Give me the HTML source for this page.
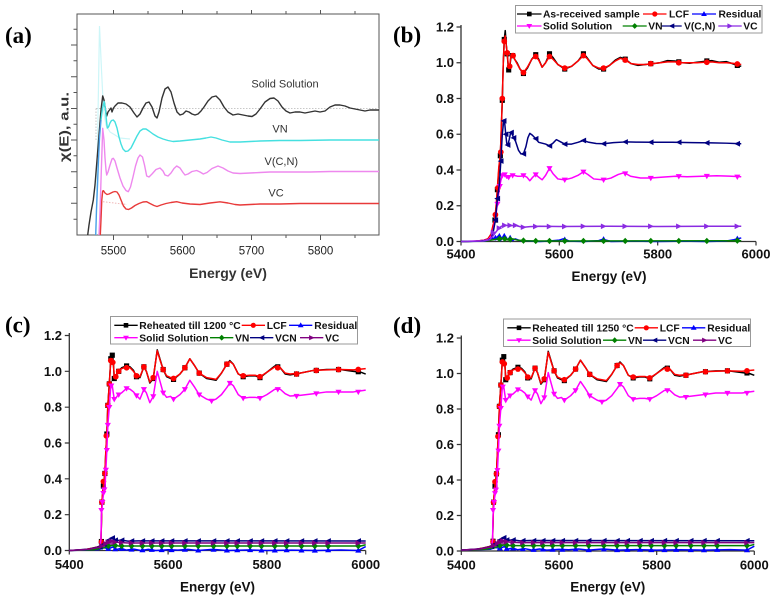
<!DOCTYPE html>
<html>
<head>
<meta charset="utf-8">
<style>
html,body{margin:0;padding:0;background:#fff;}
svg{display:block;}
text{font-family:"Liberation Sans",Arial,sans-serif;}
.t{font-weight:bold;font-size:13px;fill:#111;}
.xt{font-weight:bold;font-size:13.5px;fill:#111;}
.lg{font-weight:bold;font-size:10.3px;fill:#111;}
.pl{font-family:"Liberation Serif","Times New Roman",serif;font-weight:bold;font-size:23px;fill:#000;}
.l{fill:none;vector-effect:non-scaling-stroke;stroke-width:1.5;stroke-linejoin:round;}
.a{fill:none;stroke-width:1.4;stroke-linejoin:round;}
.ax{stroke:#333;stroke-width:1.3;fill:none;}
</style>
</head>
<body>
<svg width="779" height="598" viewBox="0 0 779 598" xmlns="http://www.w3.org/2000/svg" xmlns:xlink="http://www.w3.org/1999/xlink">
<defs>
  <path id="mS" d="M-5.2,-0.0145h10.4v0.029h-10.4z"/>
  <ellipse id="mC" cx="0" cy="0" rx="5.8" ry="0.016"/>
  <path id="mU" d="M0,-0.018L6.2,0.012L-6.2,0.012z"/>
  <path id="mD" d="M0,0.018L6.2,-0.012L-6.2,-0.012z"/>
  <path id="mL" d="M-6.4,0L5.5,-0.016L5.5,0.016z"/>
  <path id="mR" d="M6.4,0L-5.5,-0.016L-5.5,0.016z"/>
  <path id="mV" d="M0,-0.018L6.2,0L0,0.018L-6.2,0z"/>
  <path id="pS" d="M-2.3,-2.3h4.6v4.6h-4.6z"/>
  <circle id="pC" cx="0" cy="0" r="2.6"/>
  <path id="pU" d="M0,-2.9L2.9,2L-2.9,2z"/>
  <path id="pD" d="M0,2.9L2.9,-2L-2.9,-2z"/>
  <path id="pL" d="M-3,0L2.6,-2.6L2.6,2.6z"/>
  <path id="pR" d="M3,0L-2.6,-2.6L-2.6,2.6z"/>
  <path id="pV" d="M0,-2.9L2.9,0L0,2.9L-2.9,0z"/>
</defs>
<rect width="779" height="598" fill="#fff"/>

<!-- ================= PANEL (a) ================= -->
<text class="pl" x="5" y="43">(a)</text>
<rect x="77" y="14" width="302" height="221" fill="none" stroke="#555" stroke-width="1"/>
<g stroke="#555" stroke-width="1">
  <path d="M71,45H77M71,76.7H77M71,108.5H77M71,140H77M71,171.7H77M71,203.3H77"/>
  <path d="M73.5,29.3H77M73.5,60.8H77M73.5,92.5H77M73.5,124.3H77M73.5,155.8H77M73.5,187.5H77M73.5,219.2H77"/>
  <path d="M113.5,10V14M182.5,10V14M251.5,10V14M320.5,10V14M148,11V14M217,11V14M286,11V14M355,11V14"/>
  <path d="M113.5,235V240M182.5,235V240M251.5,235V240M320.5,235V240M148,235V238M217,235V238M286,235V238M355,235V238"/>
</g>
<path d="M96,108.5H379M96,108.5V140" stroke="#c8c8c8" stroke-width="1" stroke-dasharray="1.5,1.5" fill="none"/>
<path d="M103,201.7L127,204.5" stroke="#f0b8b8" stroke-width="1" stroke-dasharray="1.5,1.5" fill="none"/>
<polyline points="96,235 99.5,26 101.5,70 103.5,110 106,125 110,132 120,138 130,139" fill="none" stroke="#cdf6f8" stroke-width="1.2"/>
<polyline class="a" stroke="#333" points="87.7,235 89,225 91,212 93.3,200 95,185 97,160 99,135 101,110 102.7,96 104,100 105.5,110 106.7,116 108,112 109.5,110 111,108 112,112 113.5,108 115,106 118,103 122,103 126,104 130,107 134,113 137,117 140,114 143,108 146,103 149,102 152,107 155,116 157,118 159,112 162,98 165,89 168,87 171,92 174,103 177,112 180,115 183,114 186,111 189,112 192,114 195,115 198,114 201,111 204,107 208,101 212,97 216,96 220,100 224,107 228,112 233,115 238,114 243,115 248,116 252,116.5 256,114 260,109 265,102 270,98.5 274,98 278,101 282,107 286,111 290,113 295,112 300,112 305,113 310,112 315,111 320,112 325,111 330,107 335,105 340,105 345,106 350,108 355,109 360,110 365,111 370,110 375,110 379,110"/>
<polyline class="a" stroke="#45e0e0" points="101,120 102.5,108 104.3,101.7 105.5,110 106.5,121 107.3,128 108.5,127 110,123 111.5,120.5 113.3,120 115,122 117,128 119,137 121,144 123,149 125.5,151.5 128,151 131,148 134,142 137,136 140,131 143,129 146,129 149,131 153,134 158,137 163,139 168,140.5 173,141.5 180,141 190,140 200,139 206,138 211,137 216,138 222,140 230,142 240,142 250,141.5 260,141 280,140.5 300,140.5 330,140 379,140"/>
<polyline class="a" stroke="#4aa0e8" points="95.7,235 96.5,210 97.5,185 98.5,160 99.5,138 101,120"/>
<polyline class="a" stroke="#ee88ee" points="99,235 100,212 101,180 102,150 102.7,128.3 104,140 105,158 106,170 106.7,175 108,172 110,165 112,159 113.3,158.3 115,161 117,168 120,178 123,186 126,190.5 128.3,191.7 130.5,187 133,177 135.5,166 138,158 140,155 142.5,157 144.5,165 146.7,176 149,177 152,174 156,169.5 160,168 163,171 165,175 168,176 171,173 174,168.5 176.7,166 180,168 183,172.5 185,175 188,174 192,171.5 196.7,170.5 200,172 203.3,174 207,172.5 212,168.5 218,166 223,168 228,171 233,173 240,173.5 250,173 260,172.5 270,172 290,172 310,172 330,171.5 379,171.5"/>
<polyline class="a" stroke="#e83a3a" points="100.3,235 101,220 101.8,200 102.7,191 103.5,190.7 105,193 107,194.5 109,194 111,193 113,192 115,191.5 117,192 119,195 121,200 123.5,206 126,209 128.5,209.5 131.5,208 135,205.5 139,203.5 143,202 146.7,201.7 150,203.5 154,205.5 157,206.5 161,205 166,203.5 171,202.5 176.7,201.7 182,203 190,204 200,204.5 210,203 220,201.8 228,203 235,204.5 240,205 250,204.5 260,204 280,204 300,203.5 330,203.5 379,203.5"/>
<g font-size="11px" fill="#333">
  <text x="285" y="87.5" text-anchor="middle">Solid Solution</text>
  <text x="280" y="132.5" text-anchor="middle">VN</text>
  <text x="281.3" y="165" text-anchor="middle">V(C,N)</text>
  <text x="276" y="196.5" text-anchor="middle">VC</text>
</g>
<g font-size="11.5px" fill="#222" text-anchor="middle">
  <text x="113.5" y="254.5">5500</text>
  <text x="182.5" y="254.5">5600</text>
  <text x="251.5" y="254.5">5700</text>
  <text x="320.5" y="254.5">5800</text>
</g>
<text x="228" y="278" text-anchor="middle" font-weight="bold" font-size="14px" fill="#333">Energy (eV)</text>
<text transform="translate(68.5,127) rotate(-90)" text-anchor="middle" font-weight="bold" font-size="12.5px" fill="#333" textLength="70" lengthAdjust="spacingAndGlyphs">χ(E), a.u.</text>

<!-- ================= PANEL (b) ================= -->
<text class="pl" x="393" y="42.5">(b)</text>
<path class="ax" d="M461,25V241.5H756"/>
<g stroke="#333" stroke-width="1.2">
  <path d="M456.5,241.5H461M456.5,205.75H461M456.5,170H461M456.5,134.25H461M456.5,98.5H461M456.5,62.75H461M456.5,27H461"/>
  <path d="M461,241.5V245.5M559.3,241.5V245.5M657.7,241.5V245.5M756,241.5V245.5"/>
</g>
<g class="t" text-anchor="end">
  <text x="454" y="246">0.0</text>
  <text x="454" y="210.2">0.2</text>
  <text x="454" y="174.5">0.4</text>
  <text x="454" y="138.7">0.6</text>
  <text x="454" y="103">0.8</text>
  <text x="454" y="67.2">1.0</text>
  <text x="454" y="31.5">1.2</text>
</g>
<g class="t" text-anchor="middle">
  <text x="461" y="258.5">5400</text>
  <text x="559.3" y="258.5">5600</text>
  <text x="657.7" y="258.5">5800</text>
  <text x="756" y="258.5">6000</text>
</g>
<text class="xt" x="609" y="281" text-anchor="middle">Energy (eV)</text>

<svg x="461" y="27" width="295" height="214.5" viewBox="5400 -1.2 600 1.2" preserveAspectRatio="none" style="overflow:visible">
  <polyline class="l" stroke="#000" points="5400,0 5430,-0.002 5445,-0.006 5455,-0.015 5461,-0.04 5465,-0.08 5469,-0.12 5472,-0.2 5474,-0.29 5477,-0.4 5480,-0.48 5482,-0.63 5484,-0.79 5486,-1 5488,-1.13 5490,-1.18 5492,-1.1 5494,-1.05 5496,-0.98 5497,-0.96 5499,-0.97 5501,-1.02 5503,-1.045 5506,-1.035 5509,-1.02 5514,-1 5520,-0.965 5527,-0.94 5535,-0.97 5544,-1.02 5552,-1.045 5558,-1.02 5565,-0.975 5572,-1 5580,-1.05 5587,-1.03 5597,-0.99 5611,-0.965 5625,-0.98 5638,-1.01 5649,-1.05 5656,-1.03 5668,-0.985 5680,-0.965 5690,-0.965 5702,-0.985 5714,-1.015 5724,-1.03 5734,-1.02 5746,-0.995 5760,-0.985 5775,-0.99 5790,-0.995 5805,-1 5820,-1.012 5835,-1.01 5850,-1 5865,-0.997 5880,-1.003 5895,-1.008 5910,-1.012 5925,-1.003 5940,-1.006 5952,-0.995 5962,-0.985 5970,-0.98"/>
  <g fill="#000"><use href="#mS" x="5469" y="-0.12"/><use href="#mS" x="5474" y="-0.29"/><use href="#mS" x="5480" y="-0.48"/><use href="#mS" x="5484" y="-0.79"/><use href="#mS" x="5488" y="-1.13"/><use href="#mS" x="5494" y="-1.05"/><use href="#mS" x="5497" y="-0.96"/><use href="#mS" x="5505" y="-1.04"/><use href="#mS" x="5527" y="-0.94"/><use href="#mS" x="5552" y="-1.045"/><use href="#mS" x="5580" y="-1.05"/><use href="#mS" x="5611" y="-0.965"/><use href="#mS" x="5649" y="-1.05"/><use href="#mS" x="5690" y="-0.965"/><use href="#mS" x="5734" y="-1.02"/><use href="#mS" x="5786" y="-0.995"/><use href="#mS" x="5843" y="-1.005"/><use href="#mS" x="5900" y="-1.01"/><use href="#mS" x="5962" y="-0.985"/></g>
  <polyline class="l" stroke="#ff0000" points="5400,0 5430,-0.002 5445,-0.006 5455,-0.015 5461,-0.04 5465,-0.09 5469,-0.13 5472,-0.22 5474,-0.3 5477,-0.42 5480,-0.48 5482,-0.64 5484,-0.8 5486,-1 5488,-1.12 5490,-1.15 5492,-1.1 5494,-1.055 5496,-0.99 5497,-0.97 5499,-0.98 5501,-1.03 5503,-1.05 5506,-1.04 5509,-1.02 5514,-0.995 5520,-0.965 5527,-0.945 5535,-0.975 5544,-1.02 5552,-1.035 5558,-1.015 5565,-0.975 5572,-1 5580,-1.035 5587,-1.02 5597,-0.99 5611,-0.97 5625,-0.98 5638,-1.01 5649,-1.04 5656,-1.025 5668,-0.985 5680,-0.97 5690,-0.97 5702,-0.985 5714,-1.01 5724,-1.025 5734,-1.015 5746,-0.995 5760,-0.99 5775,-0.99 5790,-0.995 5805,-1 5820,-1.005 5835,-1.005 5850,-1 5865,-1 5880,-1 5895,-1.003 5910,-1.005 5925,-1 5940,-1 5952,-0.997 5962,-0.993 5970,-0.99"/>
  <g fill="#ff0000"><use href="#mC" x="5470" y="-0.15"/><use href="#mC" x="5475" y="-0.3"/><use href="#mC" x="5481" y="-0.5"/><use href="#mC" x="5484" y="-0.8"/><use href="#mC" x="5488" y="-1.12"/><use href="#mC" x="5494" y="-1.055"/><use href="#mC" x="5499" y="-0.98"/><use href="#mC" x="5506" y="-1.04"/><use href="#mC" x="5527" y="-0.945"/><use href="#mC" x="5552" y="-1.035"/><use href="#mC" x="5580" y="-1.035"/><use href="#mC" x="5611" y="-0.97"/><use href="#mC" x="5649" y="-1.04"/><use href="#mC" x="5690" y="-0.97"/><use href="#mC" x="5734" y="-1.015"/><use href="#mC" x="5786" y="-0.995"/><use href="#mC" x="5843" y="-1"/><use href="#mC" x="5900" y="-1.003"/><use href="#mC" x="5962" y="-0.993"/></g>
  <polyline class="l" stroke="#0000ff" points="5400,0 5450,-0.002 5465,-0.02 5470,-0.01 5475,-0.03 5480,-0.005 5485,-0.02 5490,-0.03 5495,-0.01 5500,-0.02 5505,-0.005 5510,-0.015 5520,-0.005 5540,-0.003 5560,0 5580,-0.003 5600,-0.008 5608,-0.015 5614,-0.01 5620,-0.002 5650,0 5680,-0.005 5688,-0.012 5695,-0.008 5705,0 5750,-0.002 5800,0 5850,-0.002 5900,0 5940,-0.003 5955,-0.01 5962,-0.015 5970,-0.02"/>
  <g fill="#0000ff"><use href="#mU" x="5470" y="-0.02"/><use href="#mU" x="5478" y="-0.03"/><use href="#mU" x="5488" y="-0.03"/><use href="#mU" x="5500" y="-0.02"/><use href="#mU" x="5611" y="-0.01"/><use href="#mU" x="5690" y="-0.012"/><use href="#mU" x="5962" y="-0.015"/></g>
  <polyline class="l" stroke="#ff00ff" points="5400,0 5440,-0.004 5455,-0.01 5462,-0.03 5466,-0.07 5470,-0.13 5474,-0.21 5478,-0.3 5481,-0.34 5484,-0.37 5487,-0.38 5490,-0.37 5493,-0.355 5497,-0.36 5502,-0.37 5508,-0.37 5515,-0.365 5522,-0.365 5527,-0.37 5534,-0.36 5540,-0.34 5546,-0.36 5552,-0.375 5558,-0.36 5565,-0.345 5572,-0.37 5580,-0.41 5587,-0.38 5597,-0.35 5611,-0.345 5625,-0.355 5638,-0.37 5649,-0.39 5658,-0.375 5670,-0.35 5690,-0.345 5705,-0.355 5720,-0.375 5732,-0.385 5745,-0.365 5765,-0.355 5786,-0.355 5810,-0.36 5836,-0.365 5860,-0.362 5890,-0.365 5920,-0.368 5945,-0.366 5970,-0.362"/>
  <g fill="#ff00ff"><use href="#mD" x="5474" y="-0.21"/><use href="#mD" x="5479" y="-0.31"/><use href="#mD" x="5484" y="-0.37"/><use href="#mD" x="5489" y="-0.375"/><use href="#mD" x="5497" y="-0.36"/><use href="#mD" x="5505" y="-0.37"/><use href="#mD" x="5527" y="-0.37"/><use href="#mD" x="5552" y="-0.375"/><use href="#mD" x="5580" y="-0.41"/><use href="#mD" x="5611" y="-0.345"/><use href="#mD" x="5649" y="-0.39"/><use href="#mD" x="5690" y="-0.345"/><use href="#mD" x="5734" y="-0.38"/><use href="#mD" x="5786" y="-0.355"/><use href="#mD" x="5843" y="-0.365"/><use href="#mD" x="5900" y="-0.366"/><use href="#mD" x="5962" y="-0.362"/></g>
  <polyline class="l" stroke="#008000" points="5400,0 5450,-0.003 5465,-0.01 5475,-0.015 5482,-0.02 5488,-0.012 5495,-0.01 5505,-0.015 5515,-0.008 5530,-0.004 5560,-0.003 5970,-0.004"/>
  <g fill="#008000"><use href="#mV" x="5478" y="-0.015"/><use href="#mV" x="5489" y="-0.015"/><use href="#mV" x="5500" y="-0.012"/><use href="#mV" x="5527" y="-0.005"/><use href="#mV" x="5552" y="-0.003"/><use href="#mV" x="5580" y="-0.003"/><use href="#mV" x="5611" y="-0.003"/><use href="#mV" x="5649" y="-0.003"/><use href="#mV" x="5690" y="-0.003"/><use href="#mV" x="5734" y="-0.003"/><use href="#mV" x="5786" y="-0.003"/><use href="#mV" x="5843" y="-0.003"/><use href="#mV" x="5900" y="-0.003"/><use href="#mV" x="5962" y="-0.005"/></g>
  <polyline class="l" stroke="#000080" points="5400,0 5440,-0.002 5455,-0.008 5462,-0.02 5466,-0.06 5470,-0.12 5474,-0.24 5478,-0.32 5481,-0.45 5484,-0.6 5487,-0.68 5489,-0.66 5491,-0.6 5493,-0.55 5495,-0.535 5498,-0.57 5501,-0.61 5504,-0.6 5507,-0.58 5511,-0.56 5517,-0.51 5522,-0.49 5527,-0.49 5532,-0.53 5536,-0.58 5540,-0.605 5545,-0.595 5552,-0.575 5558,-0.555 5565,-0.55 5572,-0.545 5580,-0.535 5587,-0.55 5594,-0.57 5601,-0.56 5611,-0.545 5625,-0.545 5638,-0.555 5649,-0.565 5660,-0.555 5675,-0.548 5690,-0.547 5710,-0.553 5735,-0.557 5760,-0.556 5790,-0.555 5830,-0.555 5870,-0.553 5910,-0.552 5940,-0.55 5970,-0.547"/>
  <g fill="#000080"><use href="#mL" x="5470" y="-0.12"/><use href="#mL" x="5474" y="-0.24"/><use href="#mL" x="5481" y="-0.45"/><use href="#mL" x="5487" y="-0.675"/><use href="#mL" x="5491" y="-0.6"/><use href="#mL" x="5495" y="-0.54"/><use href="#mL" x="5502" y="-0.61"/><use href="#mL" x="5507" y="-0.58"/><use href="#mL" x="5527" y="-0.49"/><use href="#mL" x="5552" y="-0.575"/><use href="#mL" x="5580" y="-0.535"/><use href="#mL" x="5611" y="-0.545"/><use href="#mL" x="5649" y="-0.565"/><use href="#mL" x="5690" y="-0.547"/><use href="#mL" x="5734" y="-0.557"/><use href="#mL" x="5786" y="-0.555"/><use href="#mL" x="5843" y="-0.555"/><use href="#mL" x="5900" y="-0.552"/><use href="#mL" x="5962" y="-0.547"/></g>
  <polyline class="l" stroke="#8a2be2" points="5400,0 5445,-0.003 5458,-0.01 5465,-0.03 5470,-0.05 5476,-0.07 5482,-0.085 5487,-0.09 5492,-0.09 5500,-0.088 5510,-0.09 5520,-0.083 5527,-0.08 5540,-0.083 5560,-0.085 5600,-0.084 5700,-0.085 5800,-0.084 5900,-0.085 5970,-0.085"/>
  <g fill="#8a2be2"><use href="#mR" x="5466" y="-0.05"/><use href="#mR" x="5478" y="-0.075"/><use href="#mR" x="5489" y="-0.09"/><use href="#mR" x="5500" y="-0.09"/><use href="#mR" x="5511" y="-0.09"/><use href="#mR" x="5527" y="-0.08"/><use href="#mR" x="5552" y="-0.084"/><use href="#mR" x="5580" y="-0.084"/><use href="#mR" x="5611" y="-0.084"/><use href="#mR" x="5649" y="-0.085"/><use href="#mR" x="5690" y="-0.085"/><use href="#mR" x="5734" y="-0.085"/><use href="#mR" x="5786" y="-0.085"/><use href="#mR" x="5843" y="-0.085"/><use href="#mR" x="5900" y="-0.085"/><use href="#mR" x="5962" y="-0.085"/></g>
</svg>

<rect x="515.5" y="5.5" width="246.5" height="27.5" fill="#fff" stroke="#999" stroke-width="1"/>
<g stroke-width="1.3">
  <path d="M517,14H541.5" stroke="#000"/><use href="#pS" x="529.3" y="14" fill="#000"/>
  <path d="M643,14H666.5" stroke="#ff0000"/><use href="#pC" x="654.8" y="14" fill="#ff0000"/>
  <path d="M692,14H716" stroke="#0000ff"/><use href="#pU" x="704" y="14" fill="#0000ff"/>
  <path d="M517,26H541.5" stroke="#ff00ff"/><use href="#pD" x="529.3" y="26" fill="#ff00ff"/>
  <path d="M622.7,26H646.7" stroke="#008000"/><use href="#pV" x="634.7" y="26" fill="#008000"/>
  <path d="M661.7,26H681.7" stroke="#000080"/><use href="#pL" x="671.7" y="26" fill="#000080"/>
  <path d="M718.3,26H741.7" stroke="#8a2be2"/><use href="#pR" x="730" y="26" fill="#8a2be2"/>
</g>
<g class="lg">
  <text x="543" y="17.7">As-received sample</text>
  <text x="669" y="17.7">LCF</text>
  <text x="718.5" y="17.7">Residual</text>
  <text x="543" y="29.7">Solid Solution</text>
  <text x="648.3" y="29.7">VN</text>
  <text x="684" y="29.7">V(C,N)</text>
  <text x="743.3" y="29.7">VC</text>
</g>

<!-- ================= PANEL (c) ================= -->
<text class="pl" x="5" y="332.5">(c)</text>
<path class="ax" d="M69.3,333V550.5H365.7"/>
<g stroke="#333" stroke-width="1.2">
  <path d="M64.8,550.5H69.3M64.8,514.67H69.3M64.8,478.83H69.3M64.8,443H69.3M64.8,407.17H69.3M64.8,371.33H69.3M64.8,335.5H69.3"/>
  <path d="M69.3,550.5V554.5M168.1,550.5V554.5M266.9,550.5V554.5M365.7,550.5V554.5"/>
</g>
<g class="t" text-anchor="end">
  <text x="62" y="555">0.0</text>
  <text x="62" y="519.2">0.2</text>
  <text x="62" y="483.3">0.4</text>
  <text x="62" y="447.5">0.6</text>
  <text x="62" y="411.7">0.8</text>
  <text x="62" y="375.8">1.0</text>
  <text x="62" y="340">1.2</text>
</g>
<g class="t" text-anchor="middle">
  <text x="69.3" y="569">5400</text>
  <text x="168.1" y="569">5600</text>
  <text x="266.9" y="569">5800</text>
  <text x="365.7" y="569">6000</text>
</g>
<text class="xt" x="217.5" y="591.5" text-anchor="middle">Energy (eV)</text>

<svg x="69.3" y="335.5" width="296.4" height="215" viewBox="5400 -1.2 600 1.2" preserveAspectRatio="none" style="overflow:visible">
 <g id="cdata">
  <polyline class="l" stroke="#000" points="5400,0 5430,-0.004 5445,-0.012 5455,-0.018 5462,-0.025 5464,-0.05 5465,-0.15 5466,-0.27 5468,-0.33 5470,-0.385 5472,-0.43 5474,-0.55 5476,-0.65 5478,-0.81 5481,-0.93 5484,-1.07 5487,-1.095 5489,-1.06 5491,-0.96 5493,-0.955 5496,-0.98 5499,-1 5506,-1.02 5516,-1.03 5523,-1.025 5530,-1.005 5536,-0.97 5543,-0.965 5551,-1.025 5556,-1 5563,-0.935 5570,-0.96 5578,-1.12 5584,-1.065 5590,-1.01 5597,-0.97 5605,-0.96 5611,-0.955 5624,-0.985 5634,-1.02 5644,-1.07 5654,-1.03 5663,-0.99 5678,-0.96 5688,-0.955 5697,-0.95 5708,-0.99 5719,-1.04 5725,-1.06 5732,-1.04 5742,-0.985 5752,-0.97 5765,-0.975 5776,-0.975 5786,-0.965 5800,-0.995 5816,-1.03 5827,-1.02 5837,-0.985 5847,-0.98 5867,-0.99 5894,-1.005 5921,-1.01 5948,-1.01 5975,-1 5990,-0.995 6000,-0.985"/>
  <g fill="#000"><use href="#mS" x="5465" y="-0.05"/><use href="#mS" x="5466" y="-0.27"/><use href="#mS" x="5469" y="-0.36"/><use href="#mS" x="5472" y="-0.43"/><use href="#mS" x="5476" y="-0.65"/><use href="#mS" x="5478" y="-0.81"/><use href="#mS" x="5481" y="-0.93"/><use href="#mS" x="5484" y="-1.07"/><use href="#mS" x="5487" y="-1.09"/><use href="#mS" x="5491" y="-0.96"/><use href="#mS" x="5500" y="-1"/><use href="#mS" x="5516" y="-1.03"/><use href="#mS" x="5536" y="-0.97"/><use href="#mS" x="5551" y="-1.025"/><use href="#mS" x="5570" y="-0.96"/><use href="#mS" x="5590" y="-1.01"/><use href="#mS" x="5611" y="-0.955"/><use href="#mS" x="5634" y="-1.02"/><use href="#mS" x="5663" y="-0.99"/><use href="#mS" x="5719" y="-1.04"/><use href="#mS" x="5752" y="-0.97"/><use href="#mS" x="5786" y="-0.965"/><use href="#mS" x="5822" y="-1.025"/><use href="#mS" x="5860" y="-0.985"/><use href="#mS" x="5900" y="-1.005"/><use href="#mS" x="5945" y="-1.01"/><use href="#mS" x="5985" y="-0.998"/></g>
  <polyline class="l" stroke="#ff0000" points="5400,0 5430,-0.004 5445,-0.012 5455,-0.018 5462,-0.025 5464,-0.05 5465,-0.15 5466,-0.27 5468,-0.34 5470,-0.385 5472,-0.43 5474,-0.56 5476,-0.65 5478,-0.81 5481,-0.93 5484,-1.06 5487,-1.07 5489,-1.05 5491,-0.97 5493,-0.965 5496,-0.985 5499,-1 5506,-1.015 5516,-1.025 5523,-1.02 5530,-1 5536,-0.975 5543,-0.97 5551,-1.025 5556,-1 5563,-0.94 5570,-0.965 5578,-1.115 5584,-1.06 5590,-1.01 5597,-0.975 5605,-0.965 5611,-0.96 5624,-0.985 5634,-1.02 5644,-1.07 5654,-1.03 5663,-0.99 5678,-0.965 5688,-0.96 5697,-0.955 5708,-0.99 5719,-1.04 5725,-1.055 5732,-1.04 5742,-0.985 5752,-0.975 5765,-0.978 5776,-0.978 5786,-0.97 5800,-0.995 5816,-1.025 5827,-1.02 5837,-0.99 5847,-0.985 5867,-0.99 5894,-1.005 5921,-1.008 5948,-1.01 5975,-1.008 5990,-1.012 6000,-1.015"/>
  <g fill="#ff0000"><use href="#mC" x="5465" y="-0.047"/><use href="#mC" x="5466" y="-0.27"/><use href="#mC" x="5469" y="-0.385"/><use href="#mC" x="5472" y="-0.43"/><use href="#mC" x="5475" y="-0.64"/><use href="#mC" x="5478" y="-0.81"/><use href="#mC" x="5481" y="-0.93"/><use href="#mC" x="5484" y="-1.06"/><use href="#mC" x="5488" y="-1.05"/><use href="#mC" x="5494" y="-0.97"/><use href="#mC" x="5500" y="-1"/><use href="#mC" x="5516" y="-1.02"/><use href="#mC" x="5536" y="-0.975"/><use href="#mC" x="5551" y="-1.025"/><use href="#mC" x="5570" y="-0.965"/><use href="#mC" x="5590" y="-1.01"/><use href="#mC" x="5611" y="-0.96"/><use href="#mC" x="5634" y="-1.02"/><use href="#mC" x="5663" y="-0.99"/><use href="#mC" x="5719" y="-1.04"/><use href="#mC" x="5752" y="-0.975"/><use href="#mC" x="5786" y="-0.97"/><use href="#mC" x="5822" y="-1.02"/><use href="#mC" x="5860" y="-0.985"/><use href="#mC" x="5900" y="-1.005"/><use href="#mC" x="5945" y="-1.01"/><use href="#mC" x="5985" y="-1.01"/></g>
  <polyline class="l" stroke="#0000ff" points="5400,0 5460,-0.005 5470,-0.015 5480,-0.01 5488,-0.02 5495,-0.005 5505,-0.012 5515,-0.002 5530,-0.008 5545,0 5560,-0.006 5575,0 5600,-0.004 5620,-0.002 5640,-0.006 5660,0 5690,-0.006 5720,0 5760,-0.003 5800,0 5850,-0.002 5900,0 5950,-0.003 5985,0 6000,-0.022"/>
  <g fill="#0000ff"><use href="#mU" x="5479" y="-0.01"/><use href="#mU" x="5493" y="-0.008"/><use href="#mU" x="5506" y="-0.01"/><use href="#mU" x="5526" y="-0.006"/><use href="#mU" x="5548" y="-0.002"/><use href="#mU" x="5567" y="-0.004"/><use href="#mU" x="5587" y="-0.003"/><use href="#mU" x="5607" y="-0.003"/><use href="#mU" x="5634" y="-0.005"/><use href="#mU" x="5661" y="-0.001"/><use href="#mU" x="5692" y="-0.005"/><use href="#mU" x="5719" y="-0.001"/><use href="#mU" x="5740" y="-0.002"/><use href="#mU" x="5766" y="-0.003"/><use href="#mU" x="5789" y="-0.001"/><use href="#mU" x="5816" y="-0.001"/><use href="#mU" x="5840" y="-0.002"/><use href="#mU" x="5870" y="-0.001"/><use href="#mU" x="5897" y="0"/><use href="#mU" x="5924" y="-0.002"/><use href="#mU" x="5985" y="0"/></g>
  <polyline class="l" stroke="#ff00ff" points="5400,0 5440,-0.005 5455,-0.012 5462,-0.02 5464,-0.06 5465,-0.2 5466,-0.225 5468,-0.29 5470,-0.33 5472,-0.34 5474,-0.45 5476,-0.56 5478,-0.7 5481,-0.8 5484,-0.92 5487,-0.92 5489,-0.88 5491,-0.845 5494,-0.85 5499,-0.87 5506,-0.88 5516,-0.905 5523,-0.9 5530,-0.885 5536,-0.865 5543,-0.845 5551,-0.9 5556,-0.88 5563,-0.825 5570,-0.86 5578,-1 5584,-0.94 5590,-0.88 5597,-0.855 5605,-0.86 5611,-0.845 5624,-0.87 5634,-0.9 5644,-0.95 5654,-0.91 5663,-0.87 5678,-0.845 5688,-0.835 5697,-0.845 5708,-0.87 5719,-0.91 5725,-0.935 5732,-0.92 5742,-0.87 5752,-0.85 5765,-0.855 5776,-0.855 5786,-0.85 5800,-0.87 5816,-0.9 5827,-0.9 5837,-0.875 5847,-0.862 5867,-0.866 5894,-0.875 5921,-0.885 5948,-0.885 5975,-0.885 6000,-0.895"/>
  <g fill="#ff00ff"><use href="#mD" x="5465" y="-0.225"/><use href="#mD" x="5467" y="-0.27"/><use href="#mD" x="5469" y="-0.32"/><use href="#mD" x="5471" y="-0.34"/><use href="#mD" x="5474" y="-0.45"/><use href="#mD" x="5476" y="-0.56"/><use href="#mD" x="5478" y="-0.7"/><use href="#mD" x="5481" y="-0.8"/><use href="#mD" x="5485" y="-0.92"/><use href="#mD" x="5491" y="-0.845"/><use href="#mD" x="5500" y="-0.87"/><use href="#mD" x="5516" y="-0.905"/><use href="#mD" x="5536" y="-0.865"/><use href="#mD" x="5551" y="-0.9"/><use href="#mD" x="5570" y="-0.86"/><use href="#mD" x="5590" y="-0.88"/><use href="#mD" x="5611" y="-0.845"/><use href="#mD" x="5634" y="-0.9"/><use href="#mD" x="5663" y="-0.87"/><use href="#mD" x="5688" y="-0.835"/><use href="#mD" x="5725" y="-0.935"/><use href="#mD" x="5752" y="-0.85"/><use href="#mD" x="5786" y="-0.85"/><use href="#mD" x="5822" y="-0.9"/><use href="#mD" x="5860" y="-0.862"/><use href="#mD" x="5900" y="-0.876"/><use href="#mD" x="5945" y="-0.885"/><use href="#mD" x="5985" y="-0.885"/></g>
  <polygon points="5440,-0.004 5460,-0.018 5475,-0.04 5485,-0.06 5490,-0.058 5490,-0.03 5475,-0.02 5460,-0.008 5440,0" fill="#800080" fill-opacity="0.75"/>
  <polyline class="l" stroke="#008000" points="5400,0 5450,-0.005 5470,-0.015 5480,-0.025 5490,-0.03 5500,-0.025 5990,-0.025 6000,-0.032"/>
  <g fill="#008000"><use href="#mV" x="5479" y="-0.025"/><use href="#mV" x="5493" y="-0.028"/><use href="#mV" x="5506" y="-0.025"/><use href="#mV" x="5526" y="-0.025"/><use href="#mV" x="5548" y="-0.025"/><use href="#mV" x="5567" y="-0.025"/><use href="#mV" x="5587" y="-0.025"/><use href="#mV" x="5607" y="-0.025"/><use href="#mV" x="5634" y="-0.025"/><use href="#mV" x="5661" y="-0.025"/><use href="#mV" x="5692" y="-0.025"/><use href="#mV" x="5719" y="-0.025"/><use href="#mV" x="5740" y="-0.025"/><use href="#mV" x="5766" y="-0.025"/><use href="#mV" x="5789" y="-0.025"/><use href="#mV" x="5816" y="-0.025"/><use href="#mV" x="5840" y="-0.025"/><use href="#mV" x="5870" y="-0.025"/><use href="#mV" x="5897" y="-0.025"/><use href="#mV" x="5924" y="-0.025"/><use href="#mV" x="5985" y="-0.025"/></g>
  <polyline class="l" stroke="#000080" points="5400,0 5440,-0.008 5460,-0.02 5470,-0.035 5478,-0.055 5484,-0.065 5487,-0.07 5490,-0.06 5495,-0.055 5505,-0.058 5520,-0.052 5540,-0.054 6000,-0.053"/>
  <g fill="#000080"><use href="#mL" x="5462" y="-0.02"/><use href="#mL" x="5470" y="-0.035"/><use href="#mL" x="5479" y="-0.057"/><use href="#mL" x="5487" y="-0.07"/><use href="#mL" x="5493" y="-0.057"/><use href="#mL" x="5506" y="-0.057"/><use href="#mL" x="5526" y="-0.053"/><use href="#mL" x="5548" y="-0.053"/><use href="#mL" x="5567" y="-0.053"/><use href="#mL" x="5587" y="-0.053"/><use href="#mL" x="5607" y="-0.053"/><use href="#mL" x="5634" y="-0.053"/><use href="#mL" x="5661" y="-0.053"/><use href="#mL" x="5692" y="-0.053"/><use href="#mL" x="5719" y="-0.053"/><use href="#mL" x="5740" y="-0.053"/><use href="#mL" x="5766" y="-0.053"/><use href="#mL" x="5789" y="-0.053"/><use href="#mL" x="5816" y="-0.053"/><use href="#mL" x="5840" y="-0.053"/><use href="#mL" x="5870" y="-0.053"/><use href="#mL" x="5897" y="-0.053"/><use href="#mL" x="5924" y="-0.053"/><use href="#mL" x="5985" y="-0.053"/></g>
  <polyline class="l" stroke="#800080" points="5400,0 5440,-0.007 5460,-0.018 5470,-0.03 5478,-0.045 5485,-0.052 5490,-0.048 5500,-0.045 5520,-0.042 6000,-0.042"/>
  <g fill="#800080"><use href="#mR" x="5466" y="-0.025"/><use href="#mR" x="5474" y="-0.038"/><use href="#mR" x="5479" y="-0.046"/><use href="#mR" x="5485" y="-0.052"/><use href="#mR" x="5493" y="-0.047"/><use href="#mR" x="5506" y="-0.044"/><use href="#mR" x="5526" y="-0.042"/><use href="#mR" x="5548" y="-0.042"/><use href="#mR" x="5567" y="-0.042"/><use href="#mR" x="5587" y="-0.042"/><use href="#mR" x="5607" y="-0.042"/><use href="#mR" x="5634" y="-0.042"/><use href="#mR" x="5661" y="-0.042"/><use href="#mR" x="5692" y="-0.042"/><use href="#mR" x="5719" y="-0.042"/><use href="#mR" x="5740" y="-0.042"/><use href="#mR" x="5766" y="-0.042"/><use href="#mR" x="5789" y="-0.042"/><use href="#mR" x="5816" y="-0.042"/><use href="#mR" x="5840" y="-0.042"/><use href="#mR" x="5870" y="-0.042"/><use href="#mR" x="5897" y="-0.042"/><use href="#mR" x="5924" y="-0.042"/><use href="#mR" x="5985" y="-0.042"/></g>
 </g>
</svg>

<rect x="110.5" y="316.5" width="247" height="27.5" fill="#fff" stroke="#999" stroke-width="1"/>
<g stroke-width="1.3">
  <path d="M114.3,325.3H137.7" stroke="#000"/><use href="#pS" x="126" y="325.3" fill="#000"/>
  <path d="M241.7,325.3H265" stroke="#ff0000"/><use href="#pC" x="253.3" y="325.3" fill="#ff0000"/>
  <path d="M289,325.3H312.3" stroke="#0000ff"/><use href="#pU" x="300.7" y="325.3" fill="#0000ff"/>
  <path d="M114.3,337.7H137.7" stroke="#ff00ff"/><use href="#pD" x="126" y="337.7" fill="#ff00ff"/>
  <path d="M210,337.7H233.3" stroke="#008000"/><use href="#pV" x="221.7" y="337.7" fill="#008000"/>
  <path d="M250,337.7H273.3" stroke="#000080"/><use href="#pL" x="261.7" y="337.7" fill="#000080"/>
  <path d="M300,337.7H323.3" stroke="#800080"/><use href="#pR" x="311.7" y="337.7" fill="#800080"/>
</g>
<g class="lg">
  <text x="139.3" y="329">Reheated till 1200 °C</text>
  <text x="266.7" y="329">LCF</text>
  <text x="314.3" y="329">Residual</text>
  <text x="139.3" y="341.4">Solid Solution</text>
  <text x="235" y="341.4">VN</text>
  <text x="275" y="341.4">VCN</text>
  <text x="325" y="341.4">VC</text>
</g>

<!-- ================= PANEL (d) ================= -->
<text class="pl" x="393" y="333">(d)</text>
<path class="ax" d="M461.3,335.5V551H754.3"/>
<g stroke="#333" stroke-width="1.2">
  <path d="M456.8,551H461.3M456.8,515.5H461.3M456.8,480H461.3M456.8,444.5H461.3M456.8,409H461.3M456.8,373.5H461.3M456.8,338H461.3"/>
  <path d="M461.3,551V555M559,551V555M656.7,551V555M754.3,551V555"/>
</g>
<g class="t" text-anchor="end">
  <text x="454" y="555.5">0.0</text>
  <text x="454" y="520">0.2</text>
  <text x="454" y="484.5">0.4</text>
  <text x="454" y="449">0.6</text>
  <text x="454" y="413.5">0.8</text>
  <text x="454" y="378">1.0</text>
  <text x="454" y="342.5">1.2</text>
</g>
<g class="t" text-anchor="middle">
  <text x="461.3" y="569.5">5400</text>
  <text x="559" y="569.5">5600</text>
  <text x="656.7" y="569.5">5800</text>
  <text x="754.3" y="569.5">6000</text>
</g>
<text class="xt" x="607.8" y="591.5" text-anchor="middle">Energy (eV)</text>

<svg x="461.3" y="338" width="293" height="213" viewBox="5400 -1.2 600 1.2" preserveAspectRatio="none" style="overflow:visible">
  <use href="#cdata" x="0" y="-0.005"/>
</svg>

<g transform="translate(393,2.5)">
<rect x="110.5" y="316.5" width="247" height="27.5" fill="#fff" stroke="#999" stroke-width="1"/>
<g stroke-width="1.3">
  <path d="M114.3,325.3H137.7" stroke="#000"/><use href="#pS" x="126" y="325.3" fill="#000"/>
  <path d="M241.7,325.3H265" stroke="#ff0000"/><use href="#pC" x="253.3" y="325.3" fill="#ff0000"/>
  <path d="M289,325.3H312.3" stroke="#0000ff"/><use href="#pU" x="300.7" y="325.3" fill="#0000ff"/>
  <path d="M114.3,337.7H137.7" stroke="#ff00ff"/><use href="#pD" x="126" y="337.7" fill="#ff00ff"/>
  <path d="M210,337.7H233.3" stroke="#008000"/><use href="#pV" x="221.7" y="337.7" fill="#008000"/>
  <path d="M250,337.7H273.3" stroke="#000080"/><use href="#pL" x="261.7" y="337.7" fill="#000080"/>
  <path d="M300,337.7H323.3" stroke="#800080"/><use href="#pR" x="311.7" y="337.7" fill="#800080"/>
</g>
<g class="lg">
  <text x="139.3" y="329">Reheated till 1250 °C</text>
  <text x="266.7" y="329">LCF</text>
  <text x="314.3" y="329">Residual</text>
  <text x="139.3" y="341.4">Solid Solution</text>
  <text x="235" y="341.4">VN</text>
  <text x="275" y="341.4">VCN</text>
  <text x="325" y="341.4">VC</text>
</g>
</g>
</svg>
</body>
</html>
